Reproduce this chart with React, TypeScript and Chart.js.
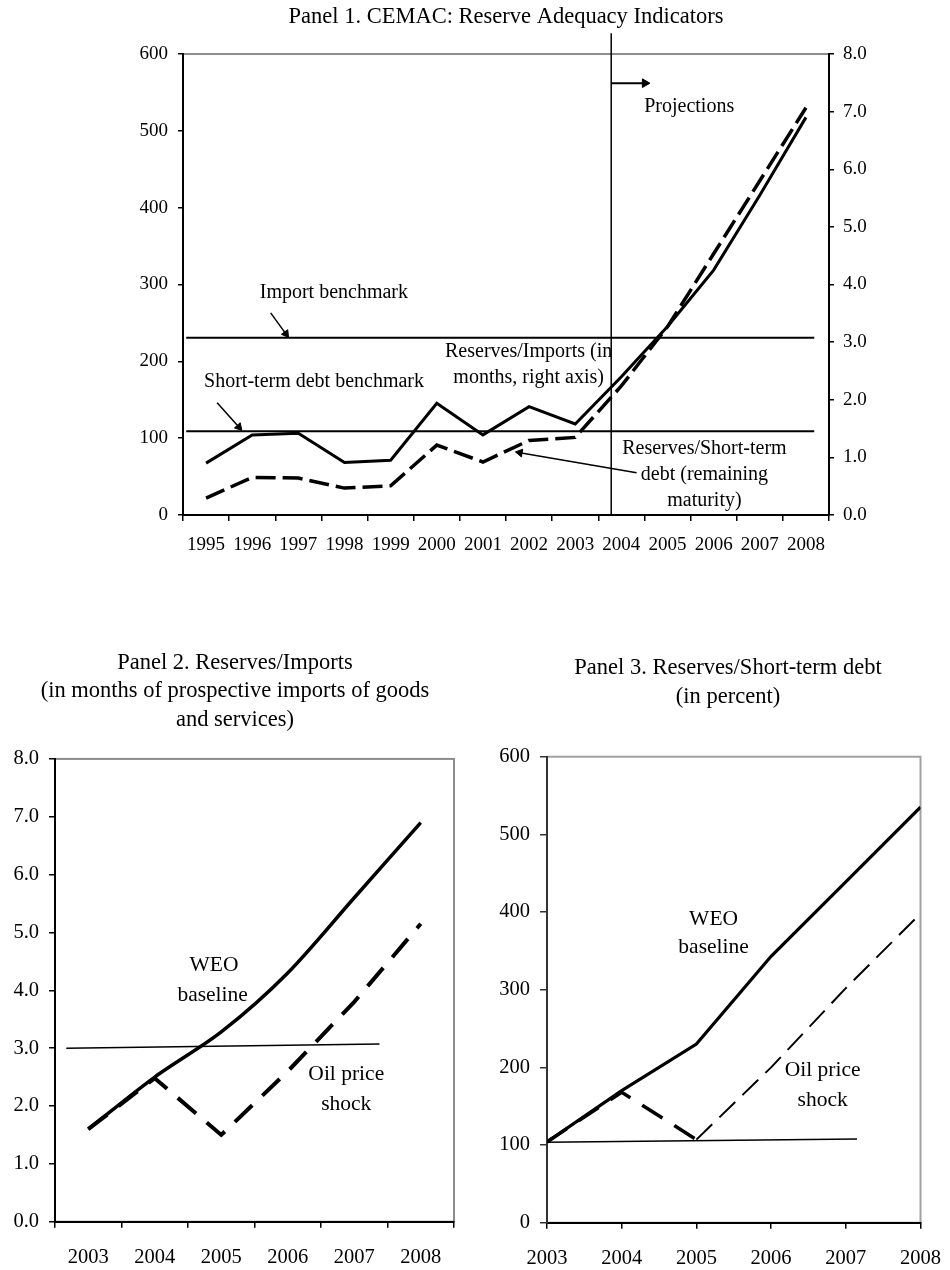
import React, { useEffect, useRef } from "react";
import { Chart, registerables } from "chart.js";

Chart.register(...registerables);

const SERIF = '"Liberation Serif", "Times New Roman", Times, serif';

// ---------------- Panel 1 data ----------------
const p1Years = [1995, 1996, 1997, 1998, 1999, 2000, 2001, 2002, 2003, 2004, 2005, 2006, 2007, 2008];
// Reserves/Imports, in months (right axis)
const p1ReservesToImports = [0.9, 1.39, 1.42, 0.91, 0.95, 1.94, 1.39, 1.88, 1.58, 2.4, 3.27, 4.25, 5.55, 6.9];
// Reserves/Short-term debt, remaining maturity, percent (left axis)
const p1ReservesToStDebt = [22, 49, 48, 35, 38, 91, 69, 97, 101, 168, 245, 340, 435, 530];
const p1LeftTicks = [0, 100, 200, 300, 400, 500, 600];
const p1RightTicks = [0, 1, 2, 3, 4, 5, 6, 7, 8];
const p1ImportBenchmark = 230.8; // expressed on left axis
const p1StDebtBenchmark = 109;
const p1BenchmarkSpan = [1994.57, 2008.18];
const p1ProjectionStart = 2003.78;
const p1ProjectionTop = 627;

// ---------------- Panel 2 data ----------------
const p2Years = [2003, 2004, 2005, 2006, 2007, 2008];
const p2WeoBaseline = [1.6, 2.5, 3.28, 4.3, 5.6, 6.9];
const p2OilShock = [1.6, 2.48, 1.5, 2.6, 3.8, 5.15];
const p2Ticks = [0, 1, 2, 3, 4, 5, 6, 7, 8];
const p2BenchmarkX = [2002.67, 2007.38];
const p2BenchmarkY = [3.0, 3.07];

// ---------------- Panel 3 data ----------------
const p3Years = [2003, 2004, 2005, 2006, 2007, 2008];
const p3WeoBaseline = [104, 170, 230, 343, 439, 535];
const p3OilShock = [104, 168, 107, 200, 302, 398];
const p3Ticks = [0, 100, 200, 300, 400, 500, 600];
const p3BenchmarkX = [2003, 2007.15];
const p3BenchmarkY = [103.5, 107.8];

type Pt = { x: number; y: number };
const toPts = (xs: number[], ys: number[]): Pt[] => xs.map((x, i) => ({ x, y: ys[i] }));
const seg = (a: number[], b: number[]): Pt[] => [
  { x: a[0], y: a[1] },
  { x: b[0], y: b[1] },
];

type Note = { text: string; x: number; y: number; yAxis?: string };

function makeNotesPlugin(items: Note[], size: number) {
  return {
    id: "notes",
    afterDatasetsDraw(chart: any) {
      const ctx = chart.ctx;
      ctx.save();
      ctx.fillStyle = "#000";
      ctx.font = `${size}px ${SERIF}`;
      ctx.textAlign = "center";
      ctx.textBaseline = "middle";
      for (const n of items) {
        const x = chart.scales.x.getPixelForValue(n.x);
        const y = chart.scales[n.yAxis || "y"].getPixelForValue(n.y);
        ctx.fillText(n.text, x, y);
      }
      ctx.restore();
    },
  };
}

function makeAreaBorderPlugin(color: string, width: number) {
  return {
    id: "areaBorder",
    beforeDraw(chart: any) {
      const { ctx, chartArea } = chart;
      ctx.save();
      ctx.strokeStyle = color;
      ctx.lineWidth = width;
      ctx.strokeRect(chartArea.left, chartArea.top, chartArea.right - chartArea.left, chartArea.bottom - chartArea.top);
      ctx.restore();
    },
  };
}

const arrowRotation = (c: any) => {
  const ds = c.dataset;
  const d = ds.data;
  const xs = c.chart.scales.x;
  const ys = c.chart.scales[ds.yAxisID || "y"];
  if (!xs || !ys) return 0;
  const dx = xs.getPixelForValue(d[1].x) - xs.getPixelForValue(d[0].x);
  const dy = ys.getPixelForValue(d[1].y) - ys.getPixelForValue(d[0].y);
  return (Math.atan2(dx, -dy) * 180) / Math.PI;
};

function arrowDs(label: string, from: number[], to: number[], width = 1.5, head = 5) {
  return {
    label,
    data: seg(from, to),
    yAxisID: "y",
    borderColor: "#000",
    backgroundColor: "#000",
    borderWidth: width,
    pointRadius: (c: any) => (c.dataIndex === 1 ? head : 0),
    pointStyle: "triangle",
    pointRotation: arrowRotation,
    pointBackgroundColor: "#000",
    pointBorderColor: "#000",
    pointBorderWidth: 1,
    clip: false,
  };
}

function lineDs(label: string, data: Pt[], extra: any) {
  return {
    label,
    data,
    borderColor: "#000",
    backgroundColor: "#000",
    pointRadius: 0,
    tension: 0,
    borderCapStyle: "butt",
    ...extra,
  };
}

const tickFont = (size: number) => ({ family: SERIF, size, weight: "normal" as const });

// invisible axis that only reserves room on the right so the full-width title is centred like the original
const spacerAxis = (w: number) => ({
  position: "right",
  display: true,
  min: 0,
  max: 1,
  ticks: { display: false },
  grid: { display: false, drawTicks: false },
  border: { display: false },
  afterFit: (s: any) => {
    s.width = w;
  },
});

// ---------------- Panel 1 config ----------------
function panel1Config(): any {
  const notes: Note[] = [
    { text: "Projections", x: 2005.47, y: 531 },
    { text: "Import benchmark", x: 1997.77, y: 289 },
    { text: "Short-term debt benchmark", x: 1997.34, y: 173 },
    { text: "Reserves/Imports (in", x: 2001.99, y: 212 },
    { text: "months, right axis)", x: 2001.99, y: 178 },
    { text: "Reserves/Short-term", x: 2005.8, y: 86 },
    { text: "debt (remaining", x: 2005.8, y: 52 },
    { text: "maturity)", x: 2005.8, y: 18 },
  ];
  return {
    type: "line",
    data: {
      datasets: [
        lineDs("Reserves/Imports (in months, right axis)", toPts(p1Years, p1ReservesToImports), {
          yAxisID: "y1",
          borderWidth: 3,
          borderJoinStyle: "miter",
        }),
        lineDs("Reserves/Short-term debt (remaining maturity)", toPts(p1Years, p1ReservesToStDebt), {
          yAxisID: "y",
          borderWidth: 3.5,
          borderDash: [20, 7],
        }),
        lineDs("Import benchmark", seg([p1BenchmarkSpan[0], p1ImportBenchmark], [p1BenchmarkSpan[1], p1ImportBenchmark]), {
          yAxisID: "y",
          borderWidth: 2,
        }),
        lineDs("Short-term debt benchmark", seg([p1BenchmarkSpan[0], p1StDebtBenchmark], [p1BenchmarkSpan[1], p1StDebtBenchmark]), {
          yAxisID: "y",
          borderWidth: 2,
        }),
        lineDs("Projections", seg([p1ProjectionStart, 0], [p1ProjectionStart, p1ProjectionTop]), {
          yAxisID: "y",
          borderWidth: 1.5,
          clip: false,
        }),
        arrowDs("arrow-projections", [p1ProjectionStart, 562], [2004.51, 562], 2, 5),
        arrowDs("arrow-import", [1996.4, 263], [1996.73, 235.8], 1.5, 4.5),
        arrowDs("arrow-stdebt", [1995.24, 146], [1995.71, 114.5], 1.5, 4.5),
        arrowDs("arrow-ratio", [2004.33, 55], [2001.8, 81.1], 1.5, 4.5),
      ],
    },
    options: {
      responsive: false,
      animation: false,
      events: [],
      layout: { padding: 0 },
      plugins: {
        legend: { display: false },
        tooltip: { enabled: false },
        title: {
          display: true,
          text: "Panel 1. CEMAC: Reserve Adequacy Indicators",
          color: "#000",
          font: { family: SERIF, size: 22.5, weight: "normal", lineHeight: 1.2 },
          padding: { top: 3.5, bottom: 23.5 },
          fullSize: false,
        },
      },
      scales: {
        x: {
          type: "linear",
          position: "bottom",
          min: p1Years[0] - 0.5,
          max: p1Years[p1Years.length - 1] + 0.5,
          afterBuildTicks: (s: any) => {
            s.ticks = p1Years.map((v) => ({ value: v }));
          },
          afterFit: (s: any) => {
            s.height = 75;
          },
          ticks: {
            callback: (v: any) => String(v),
            autoSkip: false,
            maxRotation: 0,
            color: "#000",
            font: tickFont(19),
            padding: 13,
          },
          grid: { offset: true, drawOnChartArea: false, drawTicks: true, tickLength: 6, color: "#000", lineWidth: 1.5 },
          border: { color: "#000", width: 2 },
        },
        y: {
          position: "left",
          min: p1LeftTicks[0],
          max: p1LeftTicks[p1LeftTicks.length - 1],
          afterFit: (s: any) => {
            s.width = 183;
          },
          ticks: { stepSize: p1LeftTicks[1] - p1LeftTicks[0], color: "#000", font: tickFont(19), padding: 10 },
          grid: { drawOnChartArea: false, drawTicks: true, tickLength: 5, color: "#000", lineWidth: 1.5 },
          border: { color: "#000", width: 2 },
        },
        y1: {
          position: "right",
          min: p1RightTicks[0],
          max: p1RightTicks[p1RightTicks.length - 1],
          afterFit: (s: any) => {
            s.width = 121;
          },
          ticks: {
            stepSize: p1RightTicks[1] - p1RightTicks[0],
            color: "#000",
            font: tickFont(19),
            padding: 9,
            callback: (v: any) => Number(v).toFixed(1),
          },
          grid: { drawOnChartArea: false, drawTicks: true, tickLength: 5, color: "#000", lineWidth: 1.5 },
          border: { color: "#000", width: 2 },
        },
      },
    },
    plugins: [makeAreaBorderPlugin("#8c8c8c", 2), makeNotesPlugin(notes, 20)],
  };
}

// ---------------- Panel 2 config ----------------
function panel2Config(): any {
  const notes: Note[] = [
    { text: "WEO", x: 2004.89, y: 4.44 },
    { text: "baseline", x: 2004.87, y: 3.92 },
    { text: "Oil price", x: 2006.88, y: 2.54 },
    { text: "shock", x: 2006.88, y: 2.03 },
  ];
  return {
    type: "line",
    data: {
      datasets: [
        lineDs("WEO baseline", toPts(p2Years, p2WeoBaseline), { borderWidth: 3.5, tension: 0.3 }),
        lineDs("Oil price shock", toPts(p2Years, p2OilShock), { borderWidth: 4, borderDash: [24, 14] }),
        lineDs("Benchmark", seg([p2BenchmarkX[0], p2BenchmarkY[0]], [p2BenchmarkX[1], p2BenchmarkY[1]]), {
          borderWidth: 1.5,
        }),
      ],
    },
    options: {
      responsive: false,
      animation: false,
      events: [],
      layout: { padding: 0 },
      plugins: {
        legend: { display: false },
        tooltip: { enabled: false },
        title: {
          display: true,
          text: ["Panel 2. Reserves/Imports", "(in months of prospective imports of goods", "and services)"],
          color: "#000",
          font: { family: SERIF, size: 22.5, weight: "normal", lineHeight: 1.27 },
          padding: { top: 18.7, bottom: 24.5 },
          fullSize: true,
        },
      },
      scales: {
        x: {
          type: "linear",
          position: "bottom",
          min: p2Years[0] - 0.5,
          max: p2Years[p2Years.length - 1] + 0.5,
          afterBuildTicks: (s: any) => {
            s.ticks = p2Years.map((v) => ({ value: v }));
          },
          afterFit: (s: any) => {
            s.height = 48.3;
          },
          ticks: {
            callback: (v: any) => String(v),
            autoSkip: false,
            maxRotation: 0,
            color: "#000",
            font: tickFont(20.5),
            padding: 18,
          },
          grid: { offset: true, drawOnChartArea: false, drawTicks: true, tickLength: 6, color: "#000", lineWidth: 1.5 },
          border: { color: "#000", width: 2 },
        },
        y: {
          position: "left",
          min: p2Ticks[0],
          max: p2Ticks[p2Ticks.length - 1],
          afterFit: (s: any) => {
            s.width = 55;
          },
          ticks: {
            stepSize: p2Ticks[1] - p2Ticks[0],
            color: "#000",
            font: tickFont(20.5),
            padding: 10,
            callback: (v: any) => Number(v).toFixed(1),
          },
          grid: { drawOnChartArea: false, drawTicks: true, tickLength: 6, color: "#000", lineWidth: 1.5 },
          border: { color: "#000", width: 2 },
        },
        spacer: spacerAxis(16),
      },
    },
    plugins: [makeAreaBorderPlugin("#8c8c8c", 2), makeNotesPlugin(notes, 21.5)],
  };
}

// ---------------- Panel 3 config ----------------
function panel3Config(): any {
  const notes: Note[] = [
    { text: "WEO", x: 2005.23, y: 391 },
    { text: "baseline", x: 2005.23, y: 354 },
    { text: "Oil price", x: 2006.69, y: 196 },
    { text: "shock", x: 2006.69, y: 158 },
  ];
  return {
    type: "line",
    data: {
      datasets: [
        lineDs("WEO baseline", toPts(p3Years, p3WeoBaseline), { borderWidth: 3.2 }),
        lineDs("Oil price shock", toPts(p3Years, p3OilShock), {
          borderWidth: 3.5,
          borderDash: [24, 14],
          segment: {
            borderWidth: (c: any) => (c.p0DataIndex >= 2 ? 2 : 3.5),
            borderDash: (c: any) => (c.p0DataIndex >= 2 ? [22, 10] : [24, 14]),
          },
        }),
        lineDs("Benchmark", seg([p3BenchmarkX[0], p3BenchmarkY[0]], [p3BenchmarkX[1], p3BenchmarkY[1]]), {
          borderWidth: 1.5,
        }),
      ],
    },
    options: {
      responsive: false,
      animation: false,
      events: [],
      layout: { padding: 0 },
      plugins: {
        legend: { display: false },
        tooltip: { enabled: false },
        title: {
          display: true,
          text: ["Panel 3. Reserves/Short-term debt", "(in percent)"],
          color: "#000",
          font: { family: SERIF, size: 22.5, weight: "normal", lineHeight: 1.29 },
          padding: { top: 23.5, bottom: 45.2 },
          fullSize: true,
        },
      },
      scales: {
        x: {
          type: "linear",
          position: "bottom",
          min: p3Years[0],
          max: p3Years[p3Years.length - 1],
          afterBuildTicks: (s: any) => {
            s.ticks = p3Years.map((v) => ({ value: v }));
          },
          afterFit: (s: any) => {
            s.height = 47.3;
          },
          ticks: {
            callback: (v: any) => String(v),
            autoSkip: false,
            maxRotation: 0,
            color: "#000",
            font: tickFont(20.5),
            padding: 18,
          },
          grid: { drawOnChartArea: false, drawTicks: true, tickLength: 6, color: "#000", lineWidth: 1.5 },
          border: { color: "#000", width: 2 },
        },
        y: {
          position: "left",
          min: p3Ticks[0],
          max: p3Ticks[p3Ticks.length - 1],
          afterFit: (s: any) => {
            s.width = 50;
          },
          ticks: { stepSize: p3Ticks[1] - p3Ticks[0], color: "#000", font: tickFont(20.5), padding: 10 },
          grid: { drawOnChartArea: false, drawTicks: true, tickLength: 7, color: "#333", lineWidth: 1.5 },
          border: { color: "#333", width: 2 },
        },
        spacer: spacerAxis(35),
      },
    },
    plugins: [makeAreaBorderPlugin("#a0a0a0", 2), makeNotesPlugin(notes, 21.5)],
  };
}

function ChartCanvas(props: { make: () => any; left: number; top: number; width: number; height: number }) {
  const ref = useRef<HTMLCanvasElement | null>(null);
  useEffect(() => {
    if (!ref.current) return;
    const chart = new Chart(ref.current, props.make());
    return () => chart.destroy();
  }, []);
  return (
    <canvas
      ref={ref}
      width={props.width}
      height={props.height}
      style={{ position: "absolute", left: props.left, top: props.top, width: props.width, height: props.height }}
    />
  );
}

export default function App() {
  return (
    <div style={{ position: "absolute", left: 0, top: 0, width: 950, height: 1270, background: "#fff", overflow: "hidden" }}>
      <ChartCanvas make={panel1Config} left={0} top={0} width={950} height={590} />
      <ChartCanvas make={panel2Config} left={0} top={630} width={470} height={640} />
      <ChartCanvas make={panel3Config} left={497} top={630} width={462} height={640} />
    </div>
  );
}
